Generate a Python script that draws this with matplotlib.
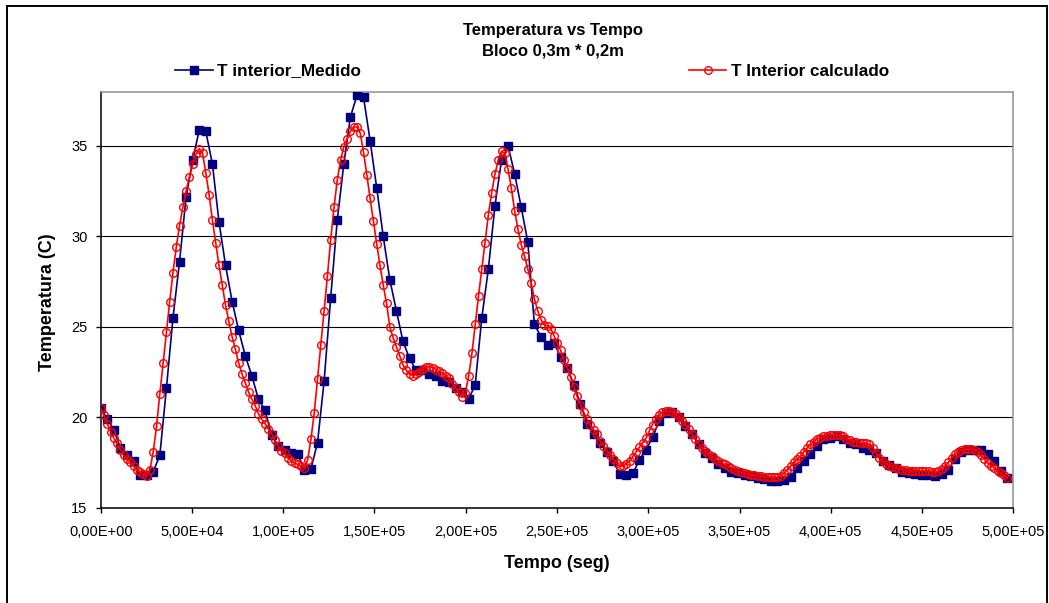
"""Temperatura vs Tempo: measured vs calculated interior temperature of the block."""

import matplotlib

matplotlib.use("Agg")
import matplotlib.pyplot as plt
import numpy as np
from matplotlib.lines import Line2D
from matplotlib.ticker import FuncFormatter, MultipleLocator

plt.rcParams["font.family"] = ["Liberation Sans", "DejaVu Sans"]

# sampling steps (s)
STEP_MEDIDO = 3600
STEP_CALC = 1800

# T interior_Medido, one reading per hour
t_medido = [
    20.5, 19.9, 19.3, 18.3, 17.9, 17.6, 16.8, 16.8, 17.0, 17.9,
    21.6, 25.5, 28.6, 32.2, 34.2, 35.9, 35.8, 34.0, 30.8, 28.4,
    26.4, 24.8, 23.4, 22.3, 21.0, 20.4, 19.0, 18.4, 18.2, 18.0,
    17.95, 17.1, 17.15, 18.6, 22.0, 26.6, 30.9, 34.0, 36.6, 37.8,
    37.7, 35.3, 32.7, 30.0, 27.6, 25.9, 24.2, 23.25, 22.6, 22.6,
    22.4, 22.3, 22.0, 21.95, 21.6, 21.4, 21.0, 21.8, 25.5, 28.2,
    31.7, 34.2, 35.0, 33.45, 31.6, 29.7, 25.15, 24.45, 24.0, 24.1,
    23.35, 22.75, 21.8, 20.75, 19.65, 19.1, 18.6, 18.1, 17.6, 16.85,
    16.8, 16.9, 17.65, 18.2, 18.9, 19.8, 20.25, 20.3, 20.0, 19.5,
    19.05, 18.5, 18.05, 17.75, 17.4, 17.2, 17.0, 16.9, 16.8, 16.75,
    16.65, 16.6, 16.5, 16.5, 16.55, 16.7, 17.2, 17.6, 17.95, 18.4,
    18.8, 18.88, 18.94, 18.8, 18.6, 18.5, 18.3, 18.2, 18.0, 17.6,
    17.35, 17.2, 17.0, 16.9, 16.85, 16.8, 16.8, 16.75, 16.85, 17.1,
    17.7, 18.1, 18.2, 18.2, 18.2, 17.95, 17.6, 17.05, 16.65,
]

# T Interior calculado, one value per half hour
t_calculado = [
    20.5, 20.1, 19.65, 19.2, 18.85, 18.55, 18.2, 17.9, 17.7, 17.5,
    17.3, 17.1, 16.95, 16.85, 16.75, 17.1, 18.1, 19.5, 21.3, 23.0,
    24.7, 26.4, 28.0, 29.4, 30.6, 31.6, 32.5, 33.3, 34.0, 34.55,
    34.85, 34.6, 33.5, 32.3, 30.9, 29.65, 28.4, 27.3, 26.2, 25.3,
    24.45, 23.75, 23.0, 22.4, 21.9, 21.4, 21.0, 20.65, 20.2, 19.9,
    19.65, 19.35, 19.1, 18.75, 18.4, 18.15, 18.0, 17.75, 17.6, 17.45,
    17.4, 17.3, 17.2, 17.65, 18.8, 20.25, 22.1, 24.0, 25.9, 27.8,
    29.8, 31.6, 33.1, 34.2, 34.95, 35.4, 35.8, 36.05, 36.05, 35.7,
    34.65, 33.4, 32.1, 30.85, 29.6, 28.4, 27.3, 26.3, 25.0, 24.4,
    23.9, 23.4, 22.9, 22.6, 22.4, 22.3, 22.38, 22.5, 22.69, 22.8,
    22.8, 22.75, 22.64, 22.55, 22.45, 22.3, 22.18, 21.86, 21.6, 21.37,
    21.1, 21.35, 22.3, 23.55, 25.15, 26.7, 28.2, 29.65, 31.2, 32.4,
    33.45, 34.2, 34.7, 34.6, 33.7, 32.65, 31.4, 30.4, 29.55, 28.9,
    28.2, 27.45, 26.55, 25.9, 25.4, 25.1, 25.05, 24.9, 24.5, 24.1,
    23.7, 23.15, 22.75, 22.25, 21.7, 21.15, 20.7, 20.28, 19.9, 19.55,
    19.3, 19.05, 18.7, 18.4, 18.15, 17.9, 17.67, 17.45, 17.3, 17.3,
    17.42, 17.6, 17.83, 18.1, 18.35, 18.6, 18.85, 19.25, 19.6, 19.9,
    20.15, 20.28, 20.34, 20.33, 20.28, 20.18, 20.0, 19.8, 19.6, 19.33,
    19.05, 18.78, 18.54, 18.32, 18.13, 17.99, 17.85, 17.72, 17.58, 17.48,
    17.39, 17.3, 17.2, 17.11, 17.02, 16.96, 16.92, 16.87, 16.83, 16.8,
    16.77, 16.74, 16.71, 16.69, 16.68, 16.68, 16.69, 16.76, 16.9, 17.1,
    17.3, 17.5, 17.68, 17.85, 18.1, 18.3, 18.5, 18.64, 18.8, 18.88,
    18.94, 18.97, 19.0, 19.02, 19.02, 19.0, 18.94, 18.82, 18.73, 18.64,
    18.64, 18.6, 18.56, 18.56, 18.5, 18.32, 18.04, 17.76, 17.57, 17.44,
    17.33, 17.26, 17.2, 17.15, 17.1, 17.07, 17.05, 17.05, 17.03, 17.03,
    17.03, 17.03, 17.03, 16.98, 16.95, 17.01, 17.15, 17.3, 17.5, 17.76,
    17.95, 18.08, 18.17, 18.23, 18.23, 18.23, 18.19, 18.08, 17.89, 17.67,
    17.48, 17.33, 17.2, 17.01, 16.9, 16.8, 16.64,
]

W, H = 1049, 603


def sci_comma(x, pos):
    return f"{x:.2E}".replace(".", ",")


fig = plt.figure(figsize=(W / 100, H / 100), dpi=100)
ax = fig.add_axes([100.7 / W, 1 - 507.7 / H, (1013.3 - 100.7) / W, (507.7 - 91.7) / H])

tm = np.arange(len(t_medido)) * STEP_MEDIDO
tc = np.arange(len(t_calculado)) * STEP_CALC

ax.plot(tm, t_medido, color="#000080", lw=1.2, marker="s", ms=5.5,
        mfc="#000080", mec="#000080", label="T interior_Medido", zorder=3)
ax.plot(tc, t_calculado, color="#ff0000", lw=1.2, marker="o", ms=5.5,
        mfc="none", mec="#ff0000", mew=1.0, label="T Interior calculado", zorder=4)

ax.set_xlim(0, 5e5)
ax.set_ylim(15, 38)
ax.xaxis.set_major_locator(MultipleLocator(5e4))
ax.yaxis.set_major_locator(MultipleLocator(5))
ax.xaxis.set_major_formatter(FuncFormatter(sci_comma))
ax.grid(axis="y", color="black", lw=0.8)
ax.set_axisbelow(True)
ax.tick_params(direction="out", length=3.5, width=1, labelsize=10.5, colors="black")
ax.tick_params(axis="x", pad=9)
ax.tick_params(axis="y", pad=6)

for side in ("left", "bottom"):
    ax.spines[side].set_color("black")
    ax.spines[side].set_linewidth(1.1)
for side in ("top", "right"):
    ax.spines[side].set_color("#909090")
    ax.spines[side].set_linewidth(1.1)

fig.text(553 / W, 1 - 30 / H, "Temperatura vs Tempo", ha="center", va="center",
         fontsize=12, fontweight="bold")
fig.text(553 / W, 1 - 51.5 / H, "Bloco 0,3m * 0,2m", ha="center", va="center",
         fontsize=12, fontweight="bold")
fig.text(557 / W, 1 - 563 / H, "Tempo (seg)", ha="center", va="center",
         fontsize=13, fontweight="bold")
fig.text(48 / W, 1 - 302 / H, "Temperatura (C)", ha="center", va="center",
         rotation=90, fontsize=13, fontweight="bold")

fig.legend(loc="center left", bbox_to_anchor=(175 / W, 1 - 71 / H), ncol=2,
           frameon=False, prop={"weight": "bold", "size": 12.3},
           handlelength=2.2, handletextpad=0.25, columnspacing=19.2,
           borderpad=0, borderaxespad=0)

# outer chart border
for xs, ys in (([6.7, 6.7], [H + 5, 6]), ([6.7, 1047], [6, 6]), ([1047, 1047], [6, H + 5])):
    fig.add_artist(Line2D([x / W for x in xs], [1 - y / H for y in ys],
                          color="black", lw=1.4))

fig.savefig("out.png", dpi=100)
